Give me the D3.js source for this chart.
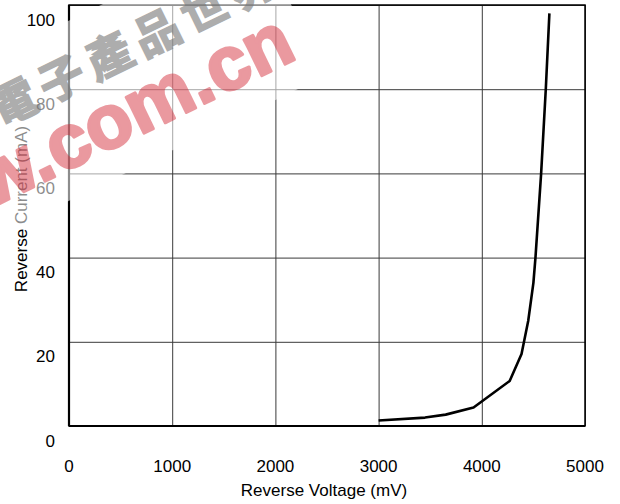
<!DOCTYPE html>
<html><head><meta charset="utf-8">
<script src="https://cdn.jsdelivr.net/npm/d3@7"></script>
<style>body{margin:0;background:#fff}svg{display:block}</style>
</head><body><svg id="c" width="620" height="504"></svg>
<script>
const voltage = [3000, 3450, 3650, 3920, 4270, 4385, 4450, 4500, 4520, 4575, 4620, 4655];
const current = [1.3, 2.0, 2.7, 4.4, 10.7, 17.1, 25, 34, 40, 60, 80, 98];
const xTicks = [0, 1000, 2000, 3000, 4000, 5000];
const yTicks = [0, 20, 40, 60, 80, 100];
const xTitle = "Reverse Voltage (mV)";
const yTitle = "Reverse Current (mA)";

const svg = d3.select("#c");
const font = "'Liberation Sans', Arial, sans-serif";
const x = d3.scaleLinear().domain([0, 5000]).range([69, 585]);
const y = d3.scaleLinear().domain([0, 100]).range([426, 5]);

// grid via axes
const gx = svg.append("g").attr("transform", `translate(0,${y(0)})`)
  .call(d3.axisBottom(x).tickValues(xTicks).tickSize(-(y(0) - y(100))).tickFormat(""));
gx.select(".domain").remove();
gx.selectAll("line").attr("stroke", "#3a3a3a").attr("stroke-width", 1);
const gy = svg.append("g").attr("transform", `translate(${x(0)},0)`)
  .call(d3.axisLeft(y).tickValues(yTicks).tickSize(-(x(5000) - x(0))).tickFormat(""));
gy.select(".domain").remove();
gy.selectAll("line").attr("stroke", "#3a3a3a").attr("stroke-width", 1);

// frame
svg.append("rect").attr("x", x(0)).attr("y", y(100)).attr("width", x(5000) - x(0)).attr("height", y(0) - y(100))
  .attr("fill", "none").attr("stroke", "#000").attr("stroke-width", 1.5);
svg.append("line").attr("x1", x(0)).attr("x2", x(0)).attr("y1", y(100)).attr("y2", y(0)).attr("stroke", "#000").attr("stroke-width", 2.2);
svg.append("line").attr("x1", x(0)).attr("x2", x(5000)).attr("y1", y(0)).attr("y2", y(0)).attr("stroke", "#000").attr("stroke-width", 2.2);

// tick labels
svg.append("g").selectAll("text").data(xTicks).join("text")
  .attr("x", d => x(d)).attr("y", 472).attr("text-anchor", "middle")
  .attr("font-family", font).attr("font-size", 17).attr("fill", "#000").text(d => d);
svg.append("g").selectAll("text").data(yTicks).join("text")
  .attr("x", 55).attr("y", d => y(d) + 20.5).attr("text-anchor", "end")
  .attr("font-family", font).attr("font-size", 17).attr("fill", "#000").text(d => d);

// titles
svg.append("text").attr("x", 324).attr("y", 495.5).attr("text-anchor", "middle")
  .attr("font-family", font).attr("font-size", 17).attr("fill", "#000").text(xTitle);
svg.append("text").attr("transform", "translate(26.5,209) rotate(-90)").attr("text-anchor", "middle")
  .attr("font-family", font).attr("font-size", 17).attr("fill", "#000").text(yTitle);

// curve
const pts = voltage.map((v, i) => [v, current[i]]);
svg.append("path").datum(pts)
  .attr("d", d3.line().x(d => x(d[0])).y(d => y(d[1])))
  .attr("fill", "none").attr("stroke", "#000").attr("stroke-width", 2.6).attr("stroke-linejoin", "round");

// watermark
const wm = svg.append("g").attr("transform", "translate(300,57) rotate(-26)");
wm.append("rect").attr("x", -520).attr("y", -134).attr("width", 535).attr("height", 162)
  .attr("fill", "#fff").attr("opacity", 0.55);
wm.append("g").attr("opacity", 0.6).append("text").attr("x", -300).attr("y", -68)
  .attr("font-family", "'Noto Sans CJK TC', sans-serif").attr("font-size", 46).attr("font-weight", 700)
  .attr("letter-spacing", 7).attr("fill", "#777").attr("stroke", "#777").attr("stroke-width", 1.5)
  .text("電子產品世界");
wm.append("g").attr("opacity", 0.45).append("text").attr("x", -1.5).attr("y", 0).attr("text-anchor", "end")
  .attr("font-family", font).attr("font-size", 76).attr("font-weight", 700)
  .attr("fill", "#d21e2d").attr("stroke", "#d21e2d").attr("stroke-width", 3).attr("stroke-linejoin", "round")
  .text("eepw.com.cn");
</script></body></html>
